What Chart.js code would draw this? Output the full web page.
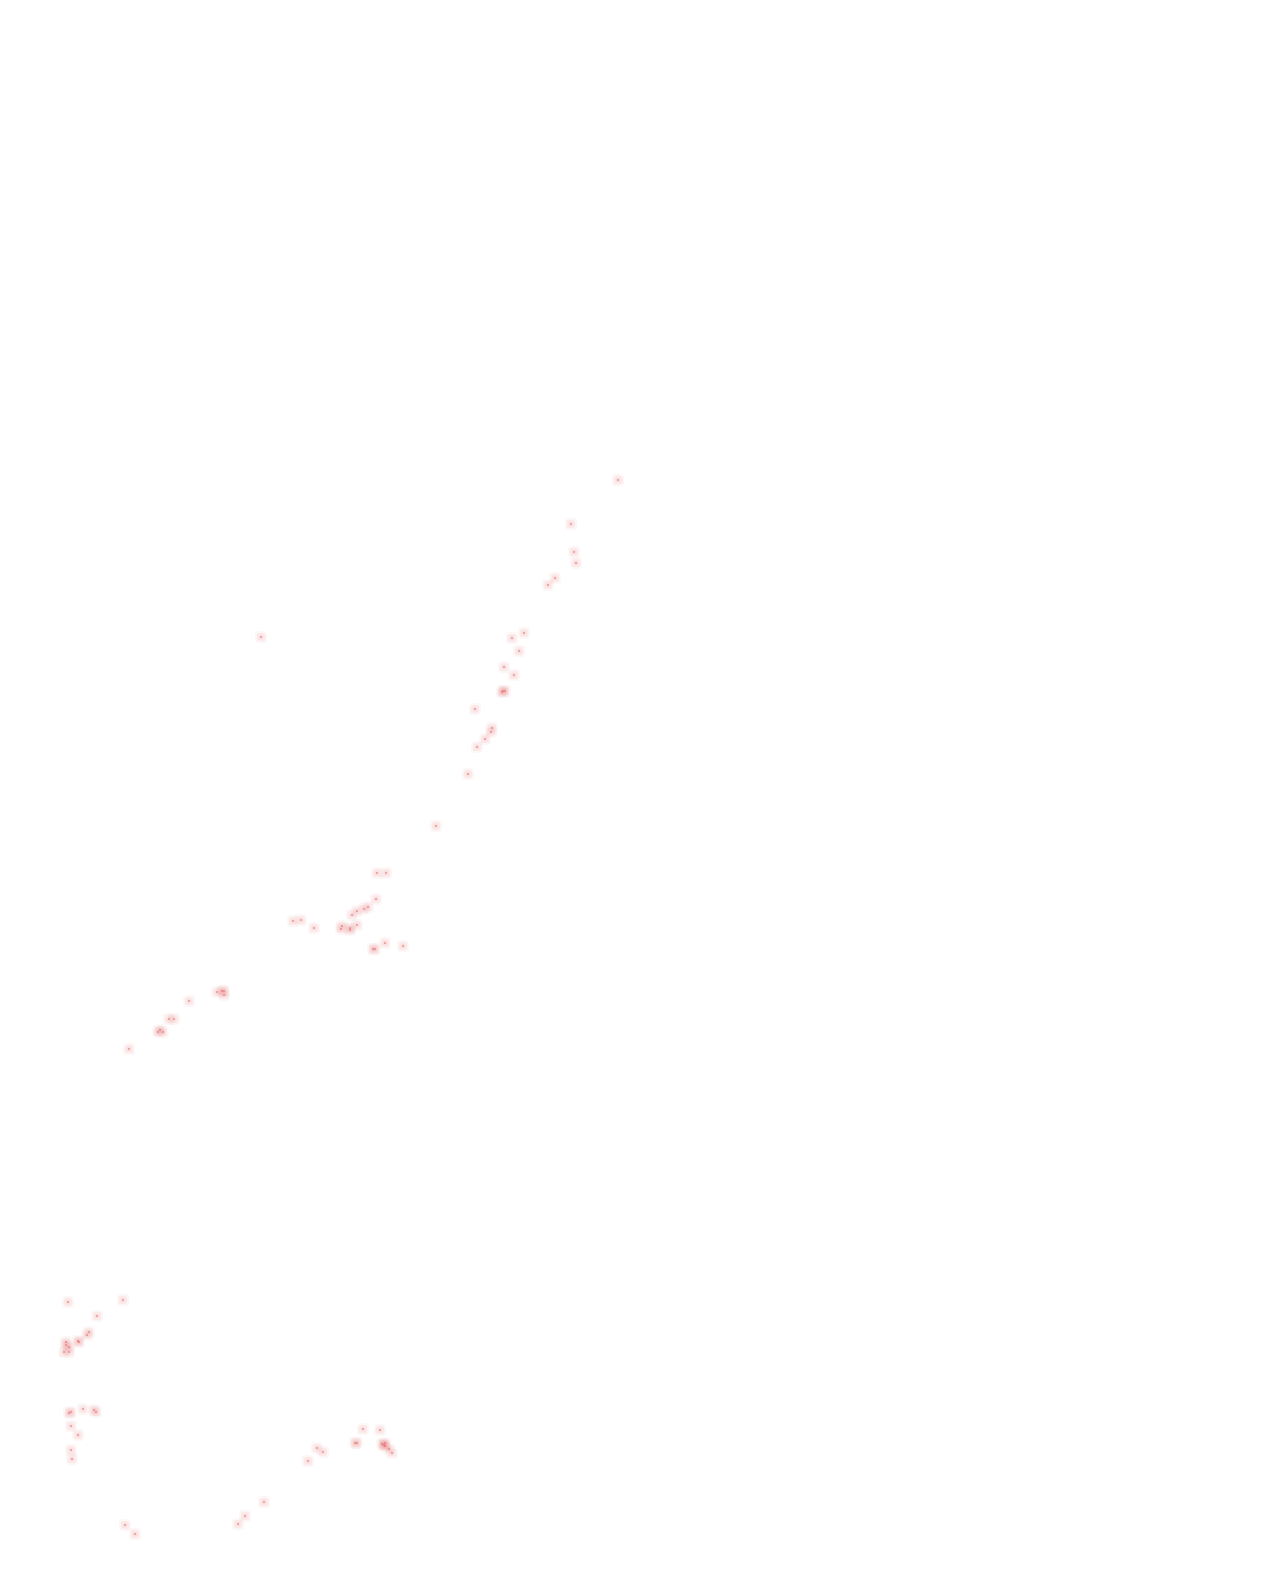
<!DOCTYPE html>
<html>
<head>
<meta charset="utf-8">
<script src="https://cdn.jsdelivr.net/npm/chart.js@4/dist/chart.umd.min.js"></script>
<style>
  html, body { margin: 0; padding: 0; background: #fff; }
  #wrap { width: 1277px; height: 1580px; }
</style>
</head>
<body>
<div id="wrap"><canvas id="scatterChart" width="1277" height="1580"></canvas></div>
<script>
// axis ranges (no axes are drawn in the picture)
const xRange = [0, 1277];
const yRange = [0, 1580];

// point values, x and y kept side by side
const xValues = [
  618, 571, 574, 576, 555, 548, 261,
  524, 512, 519, 504, 514, 502, 503, 505,
  475, 492, 491, 485, 477, 468, 436,
  377, 386, 376, 368, 364, 357, 352, 293, 301, 314, 357, 342, 341, 350, 350, 385, 373, 375, 403,
  217, 222, 224, 224, 189, 169, 174, 160, 158, 163, 129,
  68, 123, 97, 89, 87, 78, 79, 66, 66, 69, 64, 69,
  69, 71, 83, 94, 96, 71, 78, 71, 72,
  125, 135, 264, 245, 238,
  317, 323, 308, 363, 380, 355, 357, 382, 385, 384, 385, 389, 392
];
const yValues = [
  480, 524, 552, 563, 578, 585, 637,
  633, 638, 651, 667, 675, 692, 691, 691,
  709, 728, 732, 739, 747, 774, 826,
  873, 873, 899, 907, 909, 911, 915, 921, 920, 928, 925, 926, 929, 928, 930, 943, 949, 949, 946,
  992, 991, 991, 995, 1001, 1019, 1019, 1030, 1032, 1032, 1049,
  1302, 1300, 1316, 1332, 1335, 1341, 1342, 1342, 1345, 1347, 1352, 1352,
  1413, 1412, 1409, 1410, 1412, 1426, 1435, 1450, 1459,
  1525, 1534, 1502, 1516, 1524,
  1448, 1452, 1461, 1429, 1430, 1443, 1443, 1444, 1443, 1445, 1446, 1449, 1453
];

const points = xValues.map((x, i) => ({ x: x, y: yValues[i] }));

const ctx = document.getElementById("scatterChart").getContext("2d");
const chart = new Chart(ctx, {
  type: "scatter",
  data: {
    datasets: [
      {
        // soft halo
        data: points,
        pointStyle: "rectRounded",
        pointRadius: 7,
        backgroundColor: "rgba(220, 90, 90, 0.05)",
        borderWidth: 0
      },
      {
        data: points,
        pointStyle: "rectRounded",
        pointRadius: 5,
        backgroundColor: "rgba(220, 90, 90, 0.07)",
        borderWidth: 0
      },
      {
        data: points,
        pointStyle: "rectRounded",
        pointRadius: 3,
        backgroundColor: "rgba(220, 90, 90, 0.07)",
        borderWidth: 0
      },
      {
        // red centre dot
        data: points,
        pointStyle: "rect",
        pointRadius: 0.8,
        backgroundColor: "rgb(225, 0, 0)",
        borderWidth: 0
      }
    ]
  },
  options: {
    responsive: false,
    animation: false,
    events: [],
    layout: { padding: 0, autoPadding: false },
    scales: {
      x: { type: "linear", min: xRange[0], max: xRange[1], display: false },
      y: { type: "linear", min: yRange[0], max: yRange[1], reverse: true, display: false }
    },
    plugins: {
      legend: { display: false },
      tooltip: { enabled: false },
      title: { display: false }
    }
  }
});
</script>
</body>
</html>
